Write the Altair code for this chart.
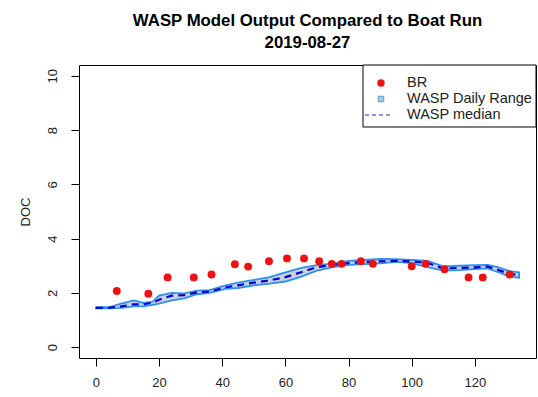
import altair as alt
import pandas as pd

# BR (boat run) observations
br_x = [6.6, 16.6, 22.7, 31.0, 36.6, 44.0, 48.2, 54.8, 60.5, 65.9, 70.7, 74.7, 77.8,
        83.9, 87.7, 100.0, 104.4, 110.4, 118.0, 122.5, 131.0]
br_y = [2.07, 1.97, 2.57, 2.57, 2.68, 3.06, 2.97, 3.17, 3.27, 3.27, 3.17, 3.07, 3.07,
        3.17, 3.07, 2.98, 3.07, 2.87, 2.57, 2.57, 2.68]

# WASP model daily range and median
wasp_x = [0, 4, 8, 12, 15, 18, 20, 24, 28, 32, 36, 41, 45, 50, 55, 60, 65, 70, 75, 80,
          85, 90, 95, 100, 105, 110, 115, 120, 124, 127, 131, 134]
wasp_hi = [1.47, 1.47, 1.60, 1.72, 1.63, 1.68, 1.90, 2.00, 1.98, 2.08, 2.10, 2.28, 2.38,
           2.48, 2.58, 2.76, 2.92, 3.02, 3.08, 3.18, 3.22, 3.25, 3.24, 3.22, 3.18, 2.98,
           3.00, 3.02, 3.03, 2.96, 2.80, 2.76]
wasp_lo = [1.43, 1.43, 1.45, 1.50, 1.50, 1.56, 1.60, 1.72, 1.80, 1.95, 2.00, 2.15, 2.18,
           2.28, 2.34, 2.42, 2.60, 2.82, 2.95, 3.03, 3.06, 3.09, 3.14, 3.10, 2.95, 2.82,
           2.84, 2.88, 2.90, 2.78, 2.60, 2.56]
wasp_med = [1.45, 1.45, 1.50, 1.58, 1.58, 1.64, 1.75, 1.90, 1.92, 2.02, 2.05, 2.20, 2.28,
            2.38, 2.46, 2.58, 2.76, 2.95, 3.03, 3.10, 3.14, 3.16, 3.18, 3.16, 3.10, 2.90,
            2.92, 2.94, 2.97, 2.86, 2.70, 2.66]

x_ticks = [0, 20, 40, 60, 80, 100, 120]
y_ticks = [0, 2, 4, 6, 8, 10]
legend_labels = ["BR", "WASP Daily Range", "WASP median"]

FONT = "Liberation Sans"

br = pd.DataFrame({"x": br_x, "y": br_y})
wasp = pd.DataFrame({"x": wasp_x, "lo": wasp_lo, "hi": wasp_hi, "med": wasp_med})

xs = alt.Scale(domain=[-5.36, 139.36], nice=False, zero=False)
ys = alt.Scale(domain=[-0.4, 10.4], nice=False, zero=False)

xaxis = alt.Axis(values=x_ticks, title=None, grid=False, domain=False, tickSize=8,
                 tickColor="black", labelColor="#222", labelFontSize=13, labelFont=FONT,
                 labelPadding=10)
yaxis = alt.Axis(values=y_ticks, title="DOC", grid=False, domain=False, tickSize=8,
                 tickColor="black", labelColor="#222", labelFontSize=13, labelFont=FONT,
                 labelAngle=270, labelAlign="center", labelBaseline="bottom",
                 labelPadding=12, titleFont=FONT, titleFontSize=13,
                 titleFontWeight="normal", titleColor="#222", titlePadding=14)

band = alt.Chart(wasp).mark_area(
    fill="#c9d2de", stroke="#2f8ff0", strokeWidth=1.8, opacity=1
).encode(
    x=alt.X("x:Q", scale=xs, axis=xaxis),
    y=alt.Y("lo:Q", scale=ys, axis=yaxis),
    y2="hi:Q",
)

median = alt.Chart(wasp).mark_line(
    color="#0000cc", strokeWidth=2.2, strokeDash=[7, 5]
).encode(x=alt.X("x:Q", scale=xs), y=alt.Y("med:Q", scale=ys))

points = alt.Chart(br).mark_circle(color="#ee1111", size=62, opacity=1).encode(
    x=alt.X("x:Q", scale=xs), y=alt.Y("y:Q", scale=ys)
)

one = pd.DataFrame({"k": [0]})
leg_box = alt.Chart(one).mark_rect(fill="white", stroke="black", strokeWidth=1).encode(
    x=alt.value(284), x2=alt.value(457), y=alt.value(0), y2=alt.value(62)
)
leg_pt = alt.Chart(one).mark_circle(color="#ee1111", size=55, opacity=1).encode(
    x=alt.value(302), y=alt.value(18)
)
leg_sq = alt.Chart(one).mark_square(fill="#a9c8e0", stroke="#5a9ad0", strokeWidth=1,
                                    size=30, opacity=1).encode(
    x=alt.value(302), y=alt.value(34)
)
leg_ln = alt.Chart(one).mark_rule(color="#2222cc", strokeWidth=1.2, strokeDash=[4, 3]).encode(
    x=alt.value(286), x2=alt.value(314), y=alt.value(50)
)
leg_texts = [
    alt.Chart(one).mark_text(
        align="left", baseline="middle", font=FONT, fontSize=14.5, color="#222"
    ).encode(x=alt.value(328), y=alt.value(yy), text=alt.value(lab))
    for lab, yy in zip(legend_labels, [18, 34, 50])
]

chart = alt.layer(band, median, points, leg_box, leg_pt, leg_sq, leg_ln, *leg_texts).properties(
    width=457,
    height=293,
    autosize=alt.AutoSizeParams(type="none"),
    padding={"left": 79, "top": 65, "right": 2, "bottom": 39},
    title=alt.Title(
        ["WASP Model Output Compared to Boat Run", "2019-08-27"],
        font=FONT, fontSize=16.8, fontWeight="bold", color="black",
        anchor="middle", lineHeight=22, offset=13,
    ),
    background="white",
).configure_view(stroke="black", strokeWidth=1)

chart.save("out.html", embed_options={"renderer": "svg", "actions": False})
